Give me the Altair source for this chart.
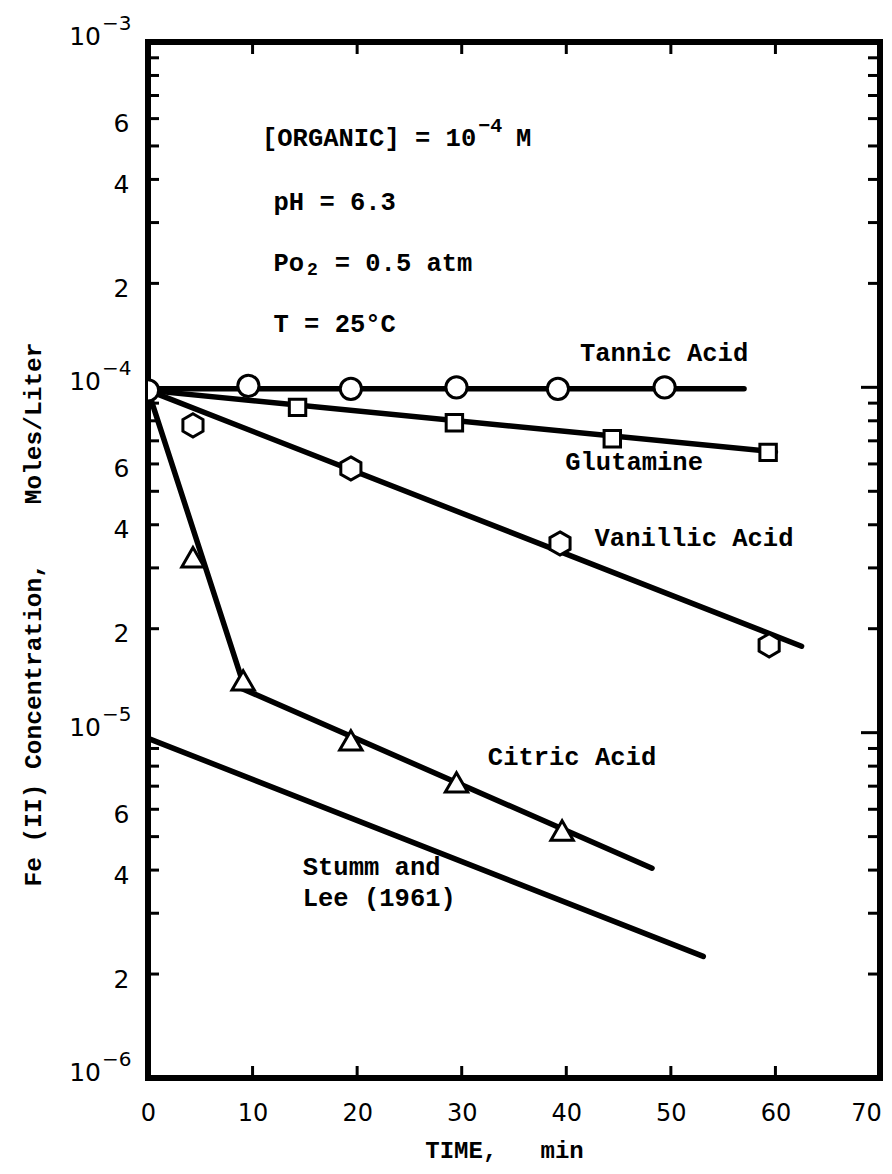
import altair as alt
import pandas as pd

# ---------------- data ----------------
tannic_t = [0, 9.6, 19.4, 29.5, 39.2, 49.4]
tannic_v = [0.98e-4, 1.01e-4, 0.99e-4, 1.0e-4, 0.99e-4, 1.0e-4]

glut_t = [14.3, 29.3, 44.4, 59.3]
glut_v = [0.875e-4, 0.79e-4, 0.71e-4, 0.648e-4]

van_t = [4.3, 19.4, 39.4, 59.4]
van_v = [0.776e-4, 0.582e-4, 0.353e-4, 0.179e-4]

cit_t = [4.3, 9.1, 19.4, 29.5, 39.6]
cit_v = [0.322e-4, 0.1417e-4, 0.95e-5, 0.718e-5, 0.521e-5]

# fitted straight lines (start / end)
line_names = ["Tannic", "Glutamine", "Vanillic", "Citric fast", "Citric slow", "Stumm"]
line_t0 = [0, 0, 0, 0, 8.8, 0]
line_t1 = [57, 60, 62.5, 9.0, 48.2, 53.1]
line_v0 = [0.99e-4, 0.98e-4, 0.98e-4, 0.98e-4, 1.35e-5, 0.963e-5]
line_v1 = [0.99e-4, 0.65e-4, 0.178e-4, 0.142e-4, 4.05e-6, 0.225e-5]

x_ticks = [0, 10, 20, 30, 40, 50, 60, 70]
decades = [1e-3, 1e-4, 1e-5, 1e-6]
decade_exp = ["\u22123", "\u22124", "\u22125", "\u22126"]
minor_labels = [2e-6, 4e-6, 6e-6, 2e-5, 4e-5, 6e-5, 2e-4, 4e-4, 6e-4]
minor_ticks = [m * d for d in [1e-6, 1e-5, 1e-4] for m in range(2, 10)]

NB = "\u00a0"
curve_labels = ["Tannic Acid", "Glutamine", "Vanillic Acid", "Citric Acid", "Stumm and", "Lee (1961)"]
curve_label_t = [41.3, 39.9, 42.7, 32.5, 14.8, 14.8]
curve_label_v = [1.257e-4, 6.08e-5, 3.66e-5, 8.5e-6, 4.08e-6, 3.32e-6]

cond_labels = ["[ORGANIC] = 10", "pH = 6.3", "Po", "T = 25\u00b0C"]
cond_t = [10.9, 12.0, 12.0, 12.0]
cond_v = [5.27e-4, 3.44e-4, 2.29e-4, 1.525e-4]

x_title = "TIME," + NB * 3 + "min"
y_title = "Fe (II) Concentration," + NB * 4 + "Moles/Liter"

# ---------------- styling ----------------
W, H = 732, 1036
MONO = "Liberation Mono"
SANS = "DejaVu Sans"
CW = 15.3  # character advance for the mono font

xscale = alt.Scale(domain=[0, 70], nice=False, zero=False)
yscale = alt.Scale(type="log", domain=[1e-6, 1e-3], nice=False)

X_ENC = alt.X(
    "t:Q", scale=xscale,
    axis=alt.Axis(values=x_ticks, labelFont=SANS, labelFontSize=24, labelColor="black",
                  ticks=False, tickSize=0, domain=False, grid=False, labelPadding=23,
                  labelFlush=False, labelOverlap=False,
                  labelOffset={"condition": {"test": "datum.value === 70", "value": -14},
                               "value": 0},
                  title=x_title, titleFont=MONO, titleFontSize=24, titleFontWeight="bold",
                  titleColor="black", titleX=356, titleY=72, titleAlign="center",
                  titleBaseline="middle"))
Y_ENC = alt.Y(
    "v:Q", scale=yscale,
    axis=alt.Axis(values=minor_labels, labelExpr="substring(format(datum.value, '.0e'), 0, 1)",
                  labelFont=SANS, labelFontSize=25, labelColor="black",
                  ticks=False, tickSize=0, domain=False, grid=False, labelPadding=19,
                  labelOffset=5, labelOverlap=False, labelFlush=False,
                  title=y_title, titleFont=MONO,
                  titleFontSize=24.5, titleFontWeight="bold", titleColor="black",
                  titleAngle=270, titleX=-115, titleY=572, titleAlign="center",
                  titleBaseline="middle"))

# ---------------- layers ----------------
lines_rows = []
for n, a, b, va, vb in zip(line_names, line_t0, line_t1, line_v0, line_v1):
    lines_rows.append({"s": n, "t": a, "v": va, "o": 0})
    lines_rows.append({"s": n, "t": b, "v": vb, "o": 1})
lines_df = pd.DataFrame(lines_rows)

lines_layer = alt.Chart(lines_df).mark_line(color="black", strokeWidth=5.5, strokeCap="round").encode(
    x=X_ENC, y=Y_ENC, detail="s:N", order="o:Q")

def pts(t, v, shape, size):
    return alt.Chart(pd.DataFrame({"t": t, "v": v})).mark_point(
        shape=shape, size=size, filled=True, fill="white", stroke="black", strokeWidth=3,
        opacity=1, clip=True).encode(x=X_ENC, y=Y_ENC)

HEX = "M0,-1L0.866,-0.5L0.866,0.5L0,1L-0.866,0.5L-0.866,-0.5Z"
tannic_layer = pts(tannic_t, tannic_v, "circle", 450)
glut_layer = pts(glut_t, glut_v, "square", 270)
van_layer = pts(van_t, van_v, HEX, 540)
cit_layer = pts(cit_t, cit_v, "triangle-up", 500)

# inside ticks
xt = pd.DataFrame({"t": [10, 20, 30, 40, 50, 60]})
bottom_ticks = alt.Chart(xt).mark_rule(color="black", strokeWidth=3).encode(
    x=X_ENC, y=alt.value(H), y2=alt.value(H - 12))
top_ticks = alt.Chart(xt).mark_rule(color="black", strokeWidth=3).encode(
    x=X_ENC, y=alt.value(0), y2=alt.value(12))
yt = pd.DataFrame({"v": minor_ticks})
left_ticks = alt.Chart(yt).mark_rule(color="black", strokeWidth=3).encode(
    y=Y_ENC, x=alt.value(0), x2=alt.value(11))
right_ticks = alt.Chart(yt).mark_rule(color="black", strokeWidth=3).encode(
    y=Y_ENC, x=alt.value(W), x2=alt.value(W - 12))
ydec = pd.DataFrame({"v": [1e-4, 1e-5]})
right_dec_ticks = alt.Chart(ydec).mark_rule(color="black", strokeWidth=3).encode(
    y=Y_ENC, x=alt.value(W), x2=alt.value(W - 19))

# decade labels 10^n
dec_df = pd.DataFrame({"v": decades, "base": ["10"] * 4, "e": decade_exp})
dec_base = alt.Chart(dec_df).mark_text(align="right", baseline="middle", font=SANS, fontSize=25,
                                       color="black", dy=-5).encode(
    y=Y_ENC, x=alt.value(-47), text="base:N")
dec_exp = alt.Chart(dec_df).mark_text(align="left", baseline="middle", font=SANS, fontSize=20,
                                      color="black", dy=-18).encode(
    y=Y_ENC, x=alt.value(-46), text="e:N")

# annotations
def txt(labels, t, v, size=25.5, dx=0, dy=0):
    df = pd.DataFrame({"label": labels, "t": t, "v": v})
    return alt.Chart(df).mark_text(align="left", baseline="middle", font=MONO, fontSize=size,
                                   fontWeight="bold", color="black", dx=dx, dy=dy).encode(
        x=X_ENC, y=Y_ENC, text="label:N")

curve_text = txt(curve_labels, curve_label_t, curve_label_v)
cond_text = txt(cond_labels, cond_t, cond_v)
org_exp = txt(["\u22124"], [cond_t[0]], [cond_v[0]], size=20, dx=14 * CW + 2, dy=-12)
org_m = txt(["M"], [cond_t[0]], [cond_v[0]], dx=16.6 * CW)
po_sub = txt(["2"], [cond_t[2]], [cond_v[2]], size=18, dx=2 * CW + 3, dy=7)
po_rest = txt(["= 0.5 atm"], [cond_t[2]], [cond_v[2]], dx=4 * CW)

chart = alt.layer(
    lines_layer, tannic_layer, glut_layer, van_layer, cit_layer,
    bottom_ticks, top_ticks, left_ticks, right_ticks, right_dec_ticks,
    dec_base, dec_exp, curve_text, cond_text, org_exp, org_m, po_sub, po_rest,
).properties(
    width=W, height=H,
    autosize=alt.AutoSizeParams(type="none"),
    padding={"left": 140, "top": 34, "right": 4, "bottom": 88},
    background="white",
).configure_view(stroke="black", strokeWidth=6)

chart.save("out.html", embed_options={"renderer": "svg", "actions": False})
